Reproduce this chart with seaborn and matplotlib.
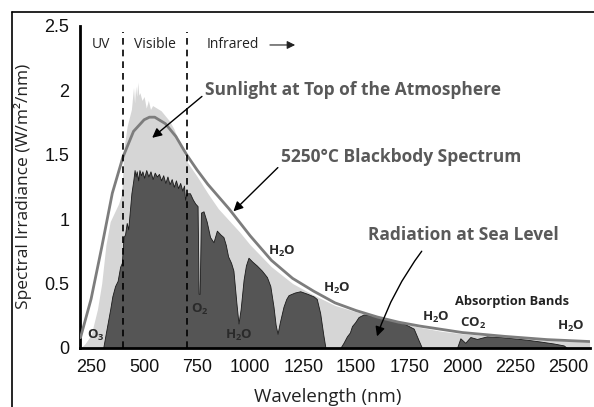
import matplotlib
matplotlib.use("Agg")
import matplotlib.pyplot as plt
from matplotlib.lines import Line2D
import seaborn as sns
import pandas as pd

# 5250 C blackbody curve
bb_nm = [200, 250, 300, 350, 400, 450, 500, 525, 550, 600, 650, 700, 750, 800,
         900, 1000, 1100, 1200, 1300, 1400, 1500, 1600, 1700, 1800, 2000, 2200,
         2400, 2600]
bb_val = [0.08, 0.38, 0.78, 1.20, 1.48, 1.68, 1.77, 1.79, 1.79, 1.74, 1.64, 1.50,
          1.38, 1.27, 1.08, 0.87, 0.68, 0.54, 0.44, 0.35, 0.29, 0.24, 0.20, 0.17,
          0.12, 0.09, 0.065, 0.05]

# sunlight at top of the atmosphere
toa_nm = [200, 220, 250, 280, 300, 320, 340, 360, 380, 395, 405, 420, 440, 450,
          455, 460, 465, 470, 475, 480, 490, 500, 510, 520, 530, 540, 560, 580,
          600, 620, 640, 660, 680, 700, 750, 800, 850, 900, 950, 1000, 1100, 1200,
          1300, 1400, 1500, 1600, 1700, 1800, 1900, 2000, 2200, 2400, 2600]
toa_val = [0.0, 0.03, 0.10, 0.30, 0.50, 0.80, 0.98, 1.05, 1.12, 1.20, 1.55, 1.72,
           1.85, 2.02, 1.90, 2.03, 1.95, 2.06, 1.96, 1.98, 1.92, 1.95, 1.86, 1.92,
           1.85, 1.88, 1.86, 1.84, 1.80, 1.76, 1.70, 1.62, 1.54, 1.45, 1.33, 1.20,
           1.08, 0.99, 0.90, 0.80, 0.63, 0.50, 0.41, 0.33, 0.28, 0.24, 0.20, 0.16,
           0.13, 0.11, 0.085, 0.062, 0.045]

# radiation at sea level
sl_nm = [200, 307, 320, 340, 350, 363, 375, 387, 395, 403, 410, 418, 425, 432,
         440, 449, 455, 460, 465, 472, 478, 485, 492, 500, 510, 520, 530, 540,
         550, 560, 570, 580, 590, 600, 610, 620, 630, 640, 650, 660, 670, 680,
         688, 693, 700, 716, 730, 741, 752, 757, 762, 768, 780, 795, 811, 827,
         843, 860, 874, 885, 896, 910, 921, 935, 945, 955, 969, 980, 992, 1010,
         1031, 1055, 1079, 1095, 1110, 1120, 1129, 1140, 1157, 1170, 1181, 1210,
         1236, 1270, 1299, 1314, 1330, 1345, 1355, 1425, 1440, 1456, 1470, 1480,
         1495, 1511, 1535, 1580, 1630, 1680, 1724, 1771, 1794, 1810, 1975, 1991,
         2014, 2038, 2069, 2116, 2180, 2241, 2300, 2368, 2430, 2478, 2494, 2600]
sl_val = [0.0, 0.0, 0.12, 0.30, 0.40, 0.48, 0.52, 0.63, 0.66, 0.86, 0.88, 0.97,
          0.92, 1.05, 1.20, 1.30, 1.38, 1.33, 1.37, 1.30, 1.38, 1.34, 1.37, 1.32,
          1.38, 1.33, 1.37, 1.31, 1.36, 1.33, 1.35, 1.30, 1.34, 1.28, 1.33, 1.27,
          1.31, 1.25, 1.30, 1.24, 1.28, 1.22, 1.26, 1.15, 1.20, 1.20, 1.15, 1.12,
          1.10, 0.42, 0.42, 1.05, 1.06, 0.98, 0.86, 0.82, 0.91, 0.88, 0.86, 0.80,
          0.71, 0.66, 0.60, 0.35, 0.19, 0.30, 0.53, 0.64, 0.70, 0.67, 0.64, 0.60,
          0.55, 0.48, 0.32, 0.18, 0.11, 0.20, 0.32, 0.38, 0.41, 0.43, 0.44, 0.42,
          0.40, 0.38, 0.27, 0.10, 0.0, 0.0, 0.04, 0.09, 0.12, 0.17, 0.20, 0.24,
          0.26, 0.25, 0.23, 0.21, 0.19, 0.15, 0.06, 0.0, 0.0, 0.075, 0.04, 0.085,
          0.07, 0.09, 0.085, 0.075, 0.065, 0.05, 0.035, 0.02, 0.0, 0.0]

x_ticks = [250, 500, 750, 1000, 1250, 1500, 1750, 2000, 2250, 2500]
y_ticks = [0, 0.5, 1, 1.5, 2, 2.5]
y_tick_labels = ["0", "0.5", "1", "1.5", "2", "2.5"]
band_edges = [400, 700]

# absorption labels: (text, wavelength, irradiance)
gas_labels = [
    ("O$_3$", 272, 0.10),
    ("O$_2$", 764, 0.295),
    ("H$_2$O", 945, 0.10),
    ("H$_2$O", 1150, 0.75),
    ("H$_2$O", 1409, 0.46),
    ("H$_2$O", 1873, 0.24),
    ("CO$_2$", 2053, 0.19),
    ("H$_2$O", 2514, 0.165),
]

sns.set_style("white")
plt.rcParams["font.family"] = ["Open Sans", "DejaVu Sans"]
plt.rcParams["mathtext.fontset"] = "custom"
plt.rcParams["mathtext.rm"] = "Open Sans:bold"
plt.rcParams["mathtext.bf"] = "Open Sans:bold"
plt.rcParams["mathtext.default"] = "bf"

fig = plt.figure(figsize=(5.94, 4.07), dpi=100)
ax = fig.add_axes([0.1355, 0.145, 0.857, 0.792])

ax.fill_between(toa_nm, toa_val, color="#d6d6d6", lw=0, zorder=1)
sns.lineplot(x=bb_nm, y=bb_val, ax=ax, color="#7d7d7d", lw=2, zorder=3)
ax.fill_between(sl_nm, sl_val, color="#555555", edgecolor="#1a1a1a", lw=0.6, zorder=2)

for b in band_edges:
    ax.plot([b, b], [0, 2.45], color="black", ls=(0, (4, 3)), lw=1.2, zorder=4)

ax.set_xlim(200, 2600)
ax.set_ylim(0, 2.5)
ax.set_xticks(x_ticks)
ax.set_yticks(y_ticks)
ax.set_yticklabels(y_tick_labels)
for lab in ax.get_xticklabels() + ax.get_yticklabels():
    lab.set_family(["Liberation Sans"])
    lab.set_fontsize(13)
    lab.set_color("#111111")
ax.tick_params(direction="out", length=5, width=1.5, color="black", pad=3)
sns.despine(ax=ax)
for s in ["left", "bottom"]:
    ax.spines[s].set_linewidth(2)
    ax.spines[s].set_color("black")

ax.set_xlabel("Wavelength (nm)", fontsize=13.5, color="#222222")
ax.set_ylabel("Spectral Irradiance (W/m\u00b2/nm)", fontsize=12.5, color="#222222")
ax.xaxis.set_label_coords(0.485, -0.125)
ax.yaxis.set_label_coords(-0.096, 0.5)

# region labels
ax.text(297, 2.35, "UV", ha="center", va="center", fontsize=10, color="#222222")
ax.text(552, 2.35, "Visible", ha="center", va="center", fontsize=10, color="#222222")
ax.text(797, 2.35, "Infrared", ha="left", va="center", fontsize=10, color="#222222")
ax.annotate("", xy=(1225, 2.35), xytext=(1080, 2.35),
            arrowprops=dict(arrowstyle="-|>", color="#222222", lw=0.8,
                            mutation_scale=12))

big = dict(fontsize=12.5, fontweight="bold", color="#595959", va="center", ha="left")
arrow = dict(arrowstyle="-|>", color="black", lw=1.0, mutation_scale=14)
ax.annotate("Sunlight at Top of the Atmosphere", xy=(538, 1.63), xytext=(788, 2.0),
            arrowprops=dict(arrow, shrinkA=0, shrinkB=0, relpos=(0, 0.3)), **big)
ax.annotate("5250\u00b0C Blackbody Spectrum", xy=(921, 1.06), xytext=(1146, 1.48),
            arrowprops=dict(arrow, shrinkA=0, shrinkB=0, relpos=(0, 0.1)), **big)
ax.annotate("Radiation at Sea Level", xy=(1598, 0.09), xytext=(1557, 0.876),
            arrowprops=dict(arrow, shrinkA=0, shrinkB=0, relpos=(0.28, -0.4),
                            connectionstyle="arc3,rad=0.08"), **big)

ax.text(2234, 0.36, "Absorption Bands", ha="center", va="center", fontsize=9.3,
        fontweight="bold", color="#222222")
for txt, wl, val in gas_labels:
    ax.text(wl, val, txt, ha="center", va="center", fontsize=9.5,
            fontweight="bold", color="#2a2a2a", zorder=5)

# outer frame (top and left edges visible)
fig.add_artist(Line2D([12 / 594, 1], [1 - 12 / 407] * 2, color="black", lw=1.2))
fig.add_artist(Line2D([12 / 594] * 2, [0, 1 - 12 / 407], color="black", lw=1.2))

fig.savefig("out.png", dpi=100)
